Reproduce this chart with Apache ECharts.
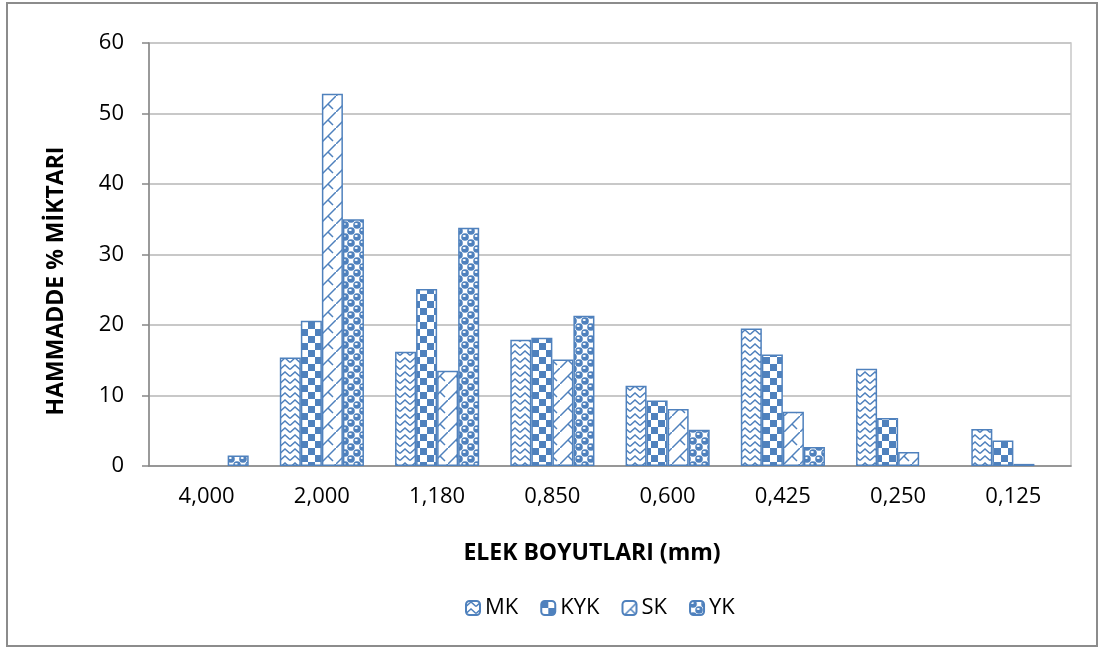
<!DOCTYPE html>
<html><head><meta charset="utf-8">
<script src="https://cdn.jsdelivr.net/npm/echarts@6/dist/echarts.min.js"></script>
<style>html,body{margin:0;padding:0;background:#fff;}#c{width:1099px;height:648px;}</style>
</head><body><div id="c"></div>
<script>
const categories = ['4,000','2,000','1,180','0,850','0,600','0,425','0,250','0,125'];
const seriesNames = ['MK','KYK','SK','YK'];
const MK  = [0, 15.4, 16.2, 17.9, 11.4, 19.5, 13.8, 5.25];
const KYK = [0, 20.6, 25.1, 18.2, 9.3, 15.8, 6.8, 3.6];
const SK  = [0, 52.8, 13.5, 15.1, 8.1, 7.7, 2.0, 0.3];
const YK  = [1.5, 35.0, 33.8, 21.3, 5.15, 2.7, 0, 0];
const yTicks = [0, 10, 20, 30, 40, 50, 60];

const BLUE = '#4F81BD';
function mk(w, h, draw) {
  const c = document.createElement('canvas'); c.width = w; c.height = h;
  const g = c.getContext('2d'); g.fillStyle = '#fff'; g.fillRect(0, 0, w, h);
  g.strokeStyle = BLUE; g.fillStyle = BLUE; draw(g); return c;
}
const patMK = mk(10, 7, g => {
  g.lineWidth = 1.5; g.beginPath(); g.moveTo(0, 5.5); g.lineTo(5, 1); g.lineTo(10, 5.5); g.stroke();
});
const patKYK = mk(14, 14, g => { g.fillRect(0, 0, 7, 7); g.fillRect(7, 7, 7, 7); });
const patSK = mk(16, 16, g => {
  g.lineWidth = 1.5; g.beginPath(); g.moveTo(-1, 17); g.lineTo(17, -1); g.stroke();
  g.beginPath(); g.moveTo(8, 8); g.lineTo(13, 13); g.stroke();
});
const patYK = mk(12, 12, g => {
  [[3, 3], [9, 9], [-3, 9], [15, 3], [9, -3], [3, 15]].forEach(([x, y]) => {
    g.fillStyle = BLUE; g.beginPath(); g.arc(x, y, 3.8, 0, Math.PI * 2); g.fill();
    g.fillStyle = '#fff'; g.beginPath(); g.ellipse(x - 0.8, y - 1, 1.6, 0.9, 0, 0, Math.PI * 2); g.fill();
  });
});
const pats = [patMK, patKYK, patSK, patYK];
const data = [MK, KYK, SK, YK];

const FONT = 'Open Sans';
const chart = echarts.init(document.getElementById('c'), null, {renderer: 'canvas'});
chart.setOption({
  animation: false,
  backgroundColor: '#fff',
  grid: {left: 149, right: 28, top: 43, bottom: 182, show: true, borderColor: '#C8C8C8', borderWidth: 1.5},
  legend: {
    top: 592, left: 460, itemWidth: 14, itemHeight: 14, itemGap: 22,
    textStyle: {fontFamily: FONT, fontSize: 22, color: '#000'},
    data: seriesNames
  },
  xAxis: {
    type: 'category', data: categories,
    axisLine: {lineStyle: {color: '#868686', width: 1.5}},
    axisTick: {show: false},
    axisLabel: {fontFamily: FONT, fontSize: 22, color: '#000', margin: 20}
  },
  yAxis: {
    type: 'value', min: 0, max: 60, interval: 10,
    axisLine: {show: true, lineStyle: {color: '#868686', width: 1.5}},
    axisTick: {show: true, length: 7, lineStyle: {color: '#868686', width: 1.5}},
    axisLabel: {fontFamily: FONT, fontSize: 22, color: '#000', margin: 25,
      formatter: v => yTicks.includes(v) ? String(v) : ''},
    splitLine: {lineStyle: {color: '#C8C8C8', width: 2}}
  },
  graphic: [
    {type: 'rect', shape: {x: 7, y: 3, width: 1090, height: 643}, style: {fill: 'none', stroke: '#8C8C8C', lineWidth: 2}, silent: true},
    {type: 'text', x: 592, y: 553, style: {text: 'ELEK BOYUTLARI (mm)', font: 'bold 23px "Open Sans"', fill: '#000', align: 'center', verticalAlign: 'middle'}},
    {type: 'text', x: 56, y: 281, rotation: Math.PI / 2, style: {text: 'HAMMADDE % MİKTARI', font: 'bold 23px "Open Sans"', fill: '#000', align: 'center', verticalAlign: 'middle'}}
  ],
  series: seriesNames.map((n, i) => ({
    name: n, type: 'bar', barGap: '0%', barCategoryGap: '27%',
    data: data[i].map(v => v === 0 ? {value: v, itemStyle: {borderWidth: 0}} : v),
    itemStyle: {color: {image: pats[i], repeat: 'repeat'}, borderColor: BLUE, borderWidth: 1.5}
  }))
});
</script></body></html>
